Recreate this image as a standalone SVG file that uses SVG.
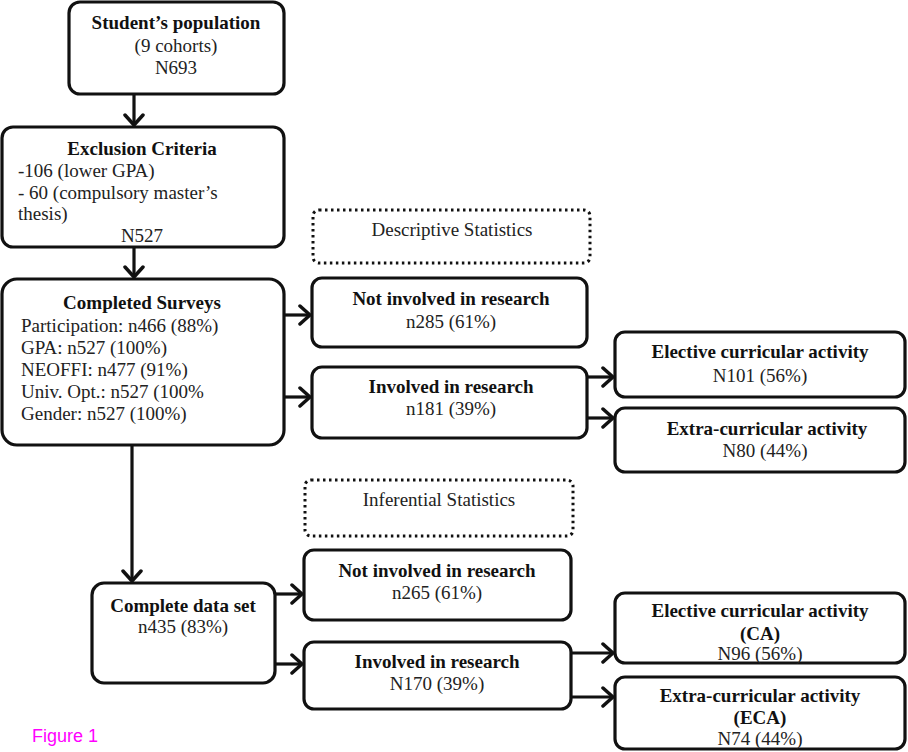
<svg xmlns="http://www.w3.org/2000/svg" width="908" height="752" viewBox="0 0 908 752">
<defs>
<marker id="ah" markerUnits="userSpaceOnUse" markerWidth="16" markerHeight="22" viewBox="0 0 16 22" refX="14" refY="11" orient="auto">
<path d="M4,2 L14,11 L4,20" fill="none" stroke="#111" stroke-width="3.5" stroke-linecap="round" stroke-linejoin="round"/>
</marker>
</defs>
<style>
.box{fill:#fff;stroke:#111;stroke-width:3.2}
.dot{fill:#fff;stroke:#111;stroke-width:3;stroke-dasharray:2.5 3.5}
text{font-family:"Liberation Serif","Times New Roman",serif;font-size:19px;fill:#222}
.b{font-weight:bold;fill:#111}
.c{text-anchor:middle}
.cn line{stroke:#111;stroke-width:3.2;marker-end:url(#ah)}
</style>
<rect width="908" height="752" fill="#fff"/>
<g id="n-population">
<rect class="box" x="69" y="2" width="215" height="92" rx="11"/>
<text class="c b" x="176" y="29">Student’s population</text>
<text class="c" x="176" y="52">(9 cohorts)</text>
<text class="c" x="176" y="74">N693</text>
</g>
<g id="n-exclusion">
<rect class="box" x="2" y="127" width="282" height="120" rx="11"/>
<text class="c b" x="142" y="155">Exclusion Criteria</text>
<text x="18" y="177">-106 (lower GPA)</text>
<text x="18" y="199">- 60 (compulsory master’s</text>
<text x="18" y="220">thesis)</text>
<text class="c" x="142" y="242">N527</text>
</g>
<g id="n-surveys">
<rect class="box" x="2" y="279" width="282" height="166" rx="15"/>
<text class="c b" x="142" y="309">Completed Surveys</text>
<text x="21" y="332">Participation: n466 (88%)</text>
<text x="21" y="354">GPA: n527 (100%)</text>
<text x="21" y="376">NEOFFI: n477 (91%)</text>
<text x="21" y="398">Univ. Opt.: n527 (100%</text>
<text x="21" y="420">Gender: n527 (100%)</text>
</g>
<g id="n-descriptive">
<rect class="dot" x="313" y="210" width="277" height="53" rx="6"/>
<text class="c" x="452" y="236">Descriptive Statistics</text>
</g>
<g id="n-notinv1">
<rect class="box" x="312" y="278" width="275" height="69" rx="10"/>
<text class="c b" x="451" y="305">Not involved in research</text>
<text class="c" x="451" y="328">n285 (61%)</text>
</g>
<g id="n-inv1">
<rect class="box" x="312" y="367" width="275" height="71" rx="10"/>
<text class="c b" x="451" y="393">Involved in research</text>
<text class="c" x="451" y="415">n181 (39%)</text>
</g>
<g id="n-elective1">
<rect class="box" x="615" y="332" width="290" height="65" rx="10"/>
<text class="c b" x="760" y="358">Elective curricular activity</text>
<text class="c" x="760" y="382">N101 (56%)</text>
</g>
<g id="n-extra1">
<rect class="box" x="615" y="408" width="290" height="64" rx="10"/>
<text class="c b" x="767" y="435">Extra-curricular activity</text>
<text class="c" x="765" y="457">N80 (44%)</text>
</g>
<g id="n-inferential">
<rect class="dot" x="305" y="480" width="268" height="56" rx="6"/>
<text class="c" x="439" y="506">Inferential Statistics</text>
</g>
<g id="n-complete">
<rect class="box" x="92" y="583" width="183" height="100" rx="12"/>
<text class="c b" x="183" y="612">Complete data set</text>
<text class="c" x="183" y="633">n435 (83%)</text>
</g>
<g id="n-notinv2">
<rect class="box" x="304" y="550" width="267" height="70" rx="10"/>
<text class="c b" x="437" y="577">Not involved in research</text>
<text class="c" x="437" y="599">n265 (61%)</text>
</g>
<g id="n-inv2">
<rect class="box" x="304" y="642" width="267" height="67" rx="10"/>
<text class="c b" x="437" y="668">Involved in research</text>
<text class="c" x="437" y="690">N170 (39%)</text>
</g>
<g id="n-elective2">
<rect class="box" x="615" y="593" width="290" height="70" rx="10"/>
<text class="c b" x="760" y="617">Elective curricular activity</text>
<text class="c b" x="760" y="640">(CA)</text>
<text class="c" x="760" y="660">N96 (56%)</text>
</g>
<g id="n-extra2">
<rect class="box" x="615" y="677" width="290" height="72" rx="10"/>
<text class="c b" x="760" y="702">Extra-curricular activity</text>
<text class="c b" x="760" y="724">(ECA)</text>
<text class="c" x="760" y="745">N74 (44%)</text>
</g>
<text x="32" y="742" style="font-family:'Liberation Sans',Arial,sans-serif;font-size:18px;fill:#f0f">Figure 1</text>
<g id="connectors" class="cn">
<line x1="134" y1="94" x2="134" y2="125"/>
<line x1="134" y1="247" x2="134" y2="277"/>
<line x1="284" y1="315" x2="310" y2="315"/>
<line x1="284" y1="397" x2="310" y2="397"/>
<line x1="587" y1="377" x2="613" y2="377"/>
<line x1="587" y1="418" x2="613" y2="418"/>
<line x1="132" y1="445" x2="132" y2="581"/>
<line x1="275" y1="594" x2="302" y2="594"/>
<line x1="275" y1="664" x2="302" y2="664"/>
<line x1="571" y1="653" x2="613" y2="653"/>
<line x1="571" y1="697" x2="613" y2="697"/>
</g>
</svg>
